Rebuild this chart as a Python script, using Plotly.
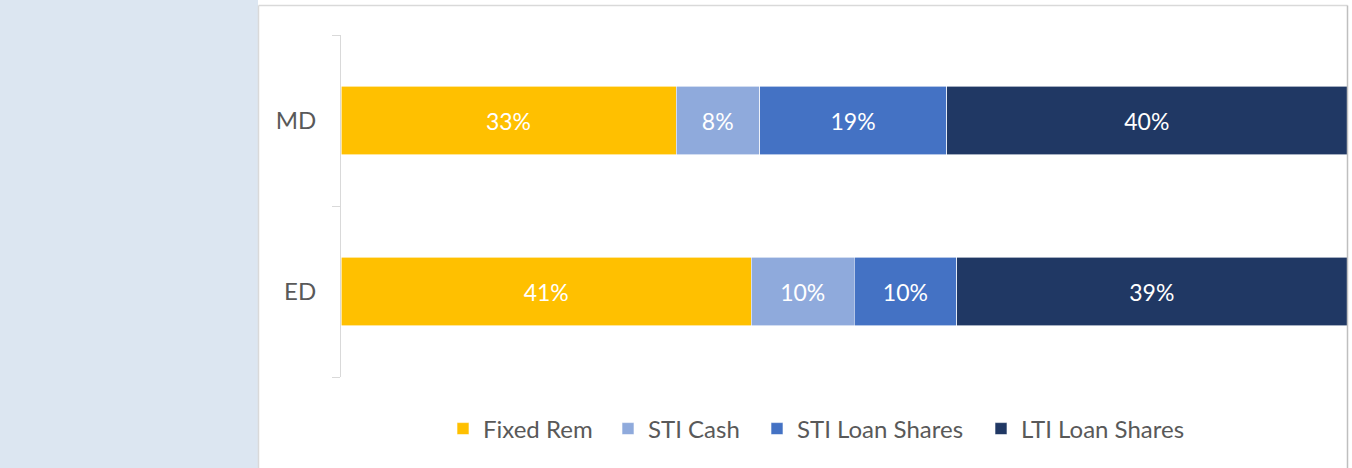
import plotly.graph_objects as go

categories = ["ED", "MD"]
series_names = ["Fixed Rem", "STI Cash", "STI Loan Shares", "LTI Loan Shares"]
fixed_rem = [40.8, 33.3]
sti_cash = [10.2, 8.3]
sti_loan = [10.2, 18.6]
lti_loan = [38.8, 39.8]
colors = ["#FFC000", "#8FAADC", "#4472C4", "#203864"]

W, H = 1352, 468
L, R, T, B = 341, 1347, 35, 377  # plot area in pixels

def px_x(p):
    return (p - L) / (R - L)

def px_y(p):
    return (B - p) / (B - T)

legend_ids = ["legend", "legend2", "legend3", "legend4"]
legend_text_x = [483, 648, 797, 1021]  # pixel where each legend label starts

fig = go.Figure()
for name, vals, col, lg in zip(series_names, [fixed_rem, sti_cash, sti_loan, lti_loan], colors, legend_ids):
    fig.add_trace(go.Bar(
        y=categories, x=vals, name=name, orientation="h",
        marker=dict(color=col, line=dict(color="white", width=0.6)),
        texttemplate="%{x:.0f}%", textposition="inside",
        insidetextanchor="middle",
        textfont=dict(color="white", size=23, family="Lato"),
        hoverinfo="skip", legend=lg,
    ))

legend_layouts = {}
for lg, tx in zip(legend_ids, legend_text_x):
    legend_layouts[lg] = dict(
        orientation="h", x=px_x(tx - 40), xanchor="left",
        y=px_y(429), yanchor="middle",
        font=dict(size=24, color="#595959", family="Lato"),
        bgcolor="rgba(0,0,0,0)", borderwidth=0,
    )

fig.update_layout(
    barmode="stack",
    bargap=0.6,
    width=W, height=H,
    margin=dict(l=L, r=W - R, t=T, b=H - B, pad=0),
    paper_bgcolor="white",
    plot_bgcolor="white",
    font=dict(family="Lato", color="#595959", size=23),
    showlegend=True,
    xaxis=dict(range=[0, 100], visible=False, fixedrange=True),
    yaxis=dict(
        categoryorder="array", categoryarray=categories,
        showline=True, linecolor="#D9D9D9", linewidth=1,
        ticks="outside", ticklen=8, tickcolor="#D9D9D9", tickwidth=1,
        tickson="boundaries", showgrid=False, zeroline=False,
        ticklabelstandoff=19, fixedrange=True,
        tickfont=dict(size=24, color="#595959", family="Lato"),
    ),
    shapes=[
        dict(type="rect", xref="paper", yref="paper", layer="below",
             x0=px_x(-2), x1=px_x(258), y0=px_y(470), y1=px_y(-2),
             fillcolor="#DCE6F1", line=dict(width=0)),
        dict(type="line", xref="paper", yref="paper", layer="above",
             x0=px_x(258.5), x1=px_x(1347.5), y0=px_y(5.5), y1=px_y(5.5),
             line=dict(color="#D9D9D9", width=1.5)),
        dict(type="line", xref="paper", yref="paper", layer="above",
             x0=px_x(258.5), x1=px_x(258.5), y0=px_y(5.5), y1=px_y(470),
             line=dict(color="#D9D9D9", width=1.5)),
        dict(type="line", xref="paper", yref="paper", layer="above",
             x0=px_x(1347.5), x1=px_x(1347.5), y0=px_y(5.5), y1=px_y(470),
             line=dict(color="#BFBFBF", width=1.5)),
    ],
    **legend_layouts,
)

fig.write_html("out.html", config={"displayModeBar": False},
               post_script="document.body.style.margin='0';")
